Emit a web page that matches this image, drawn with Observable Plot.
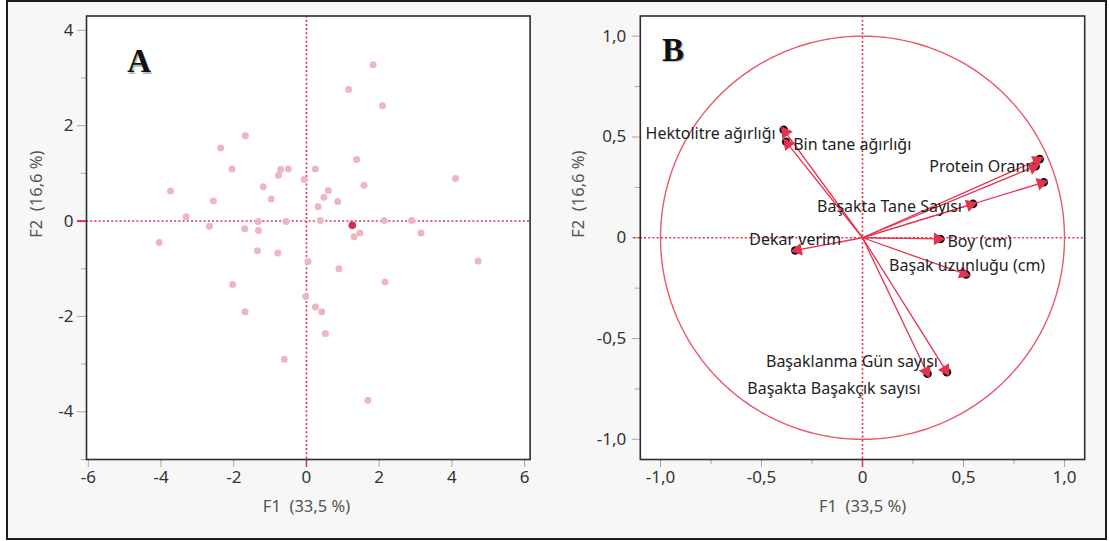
<!DOCTYPE html>
<html>
<head>
<meta charset="utf-8">
<script src="https://cdn.jsdelivr.net/npm/d3@7"></script>
<script src="https://cdn.jsdelivr.net/npm/@observablehq/plot@0.6"></script>
<style>
  body { margin: 0; background: #ffffff; }
  #wrap { position: relative; width: 1109px; height: 541px; overflow: hidden; background: #ffffff; }
  #border { position: absolute; left: 6px; top: 0px; width: 1101px; height: 540px; border: 2px solid #1c1c1c; box-sizing: border-box; background: #f7f7f7; }
  .panel { position: absolute; top: 0; }
</style>
</head>
<body>
<div id="wrap">
  <div id="border"></div>
  <div id="panelA" class="panel" style="left:0px"></div>
  <div id="panelB" class="panel" style="left:555px"></div>
</div>
<script>
// ---------- Panel A: observations (F1, F2 scores) ----------
const obsF1 = [1.835, 1.16, 2.09, -1.68, -2.36, 1.38, -2.05, -0.71, -0.50, -0.77,
               0.245, -0.06, 4.10, -1.19, 1.58, -3.74, 0.60, 0.48, -0.97, -2.56,
               0.86, 0.32, -3.31, -1.33, -0.56, 0.38, 2.14, 2.89, -2.67, -1.70,
               -1.32, 1.47, 1.31, 3.15, -4.05, -1.35, -0.79, 0.04, 0.89, 4.72,
               -2.03, 2.16, -0.02, 0.245, 0.42, -1.69, 0.52, -0.61, 1.69];
const obsF2 = [3.28, 2.76, 2.42, 1.79, 1.53, 1.29, 1.09, 1.08, 1.09, 0.96,
               1.09, 0.87, 0.89, 0.72, 0.75, 0.63, 0.64, 0.50, 0.46, 0.42,
               0.41, 0.30, 0.09, -0.01, -0.01, 0.01, 0.01, 0.01, -0.11, -0.16,
               -0.20, -0.25, -0.33, -0.25, -0.45, -0.62, -0.67, -0.85, -1.00, -0.84,
               -1.33, -1.28, -1.58, -1.80, -1.90, -1.90, -2.36, -2.90, -3.76];
const highlightF1 = [1.26];
const highlightF2 = [-0.09];

const ticksA_x = [-6, -4, -2, 0, 2, 4, 6];
const ticksA_y = [-4, -2, 0, 2, 4];
const minorA_y = [-5, -3, -1, 1, 3];

// ---------- Panel B: variables (correlation circle) ----------
const varNames = ["Hektolitre ağırlığı", "Bin tane ağırlığı", "Protein Oranı", "", "",
                  "Başakta Tane Sayısı", "Boy (cm)", "Başak uzunluğu (cm)", "Dekar verim",
                  "Başaklanma Gün sayısı", "Başakta Başakçık sayısı"];
const varF1 = [-0.390, -0.378, 0.857, 0.877, 0.897, 0.547, 0.386, 0.513, -0.333, 0.418, 0.322];
const varF2 = [0.535, 0.476, 0.355, 0.390, 0.275, 0.168, -0.006, -0.182, -0.063, -0.667, -0.675];

const ticksB = [-1, -0.5, 0, 0.5, 1];
const minorB = [-0.75, -0.25, 0.25, 0.75];

const axisLabelX = "F1\u00a0 (33,5 %)";
const axisLabelY = "F2\u00a0 (16,6 %)";

// label placement (layout only): anchor and pixel offsets from each arrow tip
const labelLayout = [
  {anchor: "end", dx: -8, dy: 4},
  {anchor: "start", dx: 7, dy: 3},
  {anchor: "end", dx: -6, dy: 1},
  null, null,
  {anchor: "end", dx: -11, dy: 3},
  {anchor: "start", dx: 7, dy: 3},
  {anchor: "middle", dx: 1, dy: -9},
  {anchor: "middle", dx: 0, dy: -11},
  {anchor: "end", dx: -9, dy: -10},
  {anchor: "end", dx: -7, dy: 15}
];

// ---------- styles ----------
const RED = "#e3334f";
const CIRCLE = "#e8596b";
const PINK = "#ecb7c3";
const DARKRED = "#d2304a";
const TICK = "#a8a8a8";
const TXT = "#333333";
const FONT = "Noto Sans, Open Sans, sans-serif";
const FS = 16;       // variable labels
const FS_TICK = 17;  // tick labels
const FS_AX = 16.5;  // axis titles

const fmtInt = d => String(d);
const fmtDec = d => d === 0 ? "0" : d.toFixed(1).replace(".", ",");

const obs = obsF1.map((x, i) => ({x, y: obsF2[i]}));
const hi = highlightF1.map((x, i) => ({x, y: highlightF2[i]}));

const letterStyle = {fontFamily: "Liberation Serif, Times New Roman, serif", fontWeight: "bold", fontSize: 33};

const plotA = Plot.plot({
  width: 555, height: 541,
  marginLeft: 86, marginRight: 25.4, marginTop: 15.5, marginBottom: 82,
  x: {domain: [-6.05, 6.15]},
  y: {domain: [-5, 4.3]},
  style: {background: "transparent", fontFamily: FONT, fontSize: FS + "px", color: TXT},
  marks: [
    Plot.frame({fill: "white", stroke: null}),
    Plot.axisX({ticks: ticksA_x, tickFormat: fmtInt, tickSize: 8, tickPadding: 3, stroke: TICK, fill: TXT, fontSize: FS_TICK, label: null}),
    Plot.axisX({ticks: [0], tickFormat: () => "", tickSize: 8, stroke: RED, strokeWidth: 1.5, label: null}),
    Plot.axisY({ticks: ticksA_y, tickFormat: fmtInt, tickSize: 9, tickPadding: 4, stroke: TICK, fill: TXT, fontSize: FS_TICK, label: null}),
    Plot.axisY({ticks: minorA_y, tickFormat: () => "", tickSize: 5, stroke: TICK, label: null}),
    Plot.axisY({ticks: [0], tickFormat: () => "", tickSize: 9, stroke: RED, strokeWidth: 2, label: null}),
    Plot.ruleX([0], {stroke: RED, strokeWidth: 1.6, strokeDasharray: "2,2.2"}),
    Plot.ruleY([0], {stroke: RED, strokeWidth: 1.6, strokeDasharray: "2,2.2"}),
    Plot.dot(obs, {x: "x", y: "y", r: 3.5, fill: PINK, stroke: null}),
    Plot.dot(hi, {x: "x", y: "y", r: 3.8, fill: DARKRED, stroke: null}),
    Plot.frame({stroke: "#2e2e2e", strokeWidth: 1.6}),
    Plot.text([axisLabelX], {x: () => 0, frameAnchor: "bottom", dy: 47, lineAnchor: "middle", fill: "#555", fontSize: FS_AX}),
    Plot.text([axisLabelY], {frameAnchor: "left", dx: -50, rotate: -90, lineAnchor: "middle", fill: "#555", fontSize: FS_AX}),
    Plot.text(["A"], {frameAnchor: "top-left", dx: 42, dy: 57.5, lineAnchor: "bottom", textAnchor: "start", fill: "#b8b8b8", ...letterStyle}),
    Plot.text(["A"], {frameAnchor: "top-left", dx: 40.7, dy: 56, lineAnchor: "bottom", textAnchor: "start", fill: "#111", ...letterStyle})
  ]
});
document.getElementById("panelA").appendChild(plotA);

// ---------- Panel B ----------
const vars = varNames.map((name, i) => {
  const x = varF1[i], y = varF2[i];
  const len = Math.hypot(x, y);
  const back = 0.014; // arrowhead sits just behind the tip
  return {name, x, y, hx: x - back * x / len, hy: y - back * y / len, rot: Math.atan2(x, y) * 180 / Math.PI};
});
const circle = d3.range(0, 361, 1).map(a => ({x: Math.cos(a * Math.PI / 180), y: Math.sin(a * Math.PI / 180)}));

const labelMarks = vars.map((v, i) => {
  const L = labelLayout[i];
  if (!L || !v.name) return null;
  return Plot.text([v], {x: "x", y: "y", text: "name", textAnchor: L.anchor, dx: L.dx, dy: L.dy,
    lineAnchor: "middle", fill: "#1e1e1e", fontSize: FS});
}).filter(Boolean);

const plotB = Plot.plot({
  width: 554, height: 541,
  marginLeft: 84.8, marginRight: 24.8, marginTop: 15.5, marginBottom: 82,
  x: {domain: [-1.1, 1.1]},
  y: {domain: [-1.1, 1.1]},
  style: {background: "transparent", fontFamily: FONT, fontSize: FS + "px", color: TXT},
  marks: [
    Plot.frame({fill: "white", stroke: null}),
    Plot.axisX({ticks: ticksB, tickFormat: fmtDec, tickSize: 8, tickPadding: 3, stroke: TICK, fill: TXT, fontSize: FS_TICK, label: null}),
    Plot.axisX({ticks: minorB, tickFormat: () => "", tickSize: 5, stroke: TICK, label: null}),
    Plot.axisX({ticks: [0], tickFormat: () => "", tickSize: 8, stroke: RED, strokeWidth: 1.5, label: null}),
    Plot.axisY({ticks: ticksB, tickFormat: fmtDec, tickSize: 8, tickPadding: 6, stroke: TICK, fill: TXT, fontSize: FS_TICK, label: null}),
    Plot.axisY({ticks: minorB, tickFormat: () => "", tickSize: 5, stroke: TICK, label: null}),
    Plot.axisY({ticks: [0], tickFormat: () => "", tickSize: 8, stroke: RED, strokeWidth: 1.6, strokeDasharray: "2,2.2", label: null}),
    Plot.ruleX([0], {stroke: RED, strokeWidth: 1.6, strokeDasharray: "2,2.2"}),
    Plot.ruleY([0], {stroke: RED, strokeWidth: 1.6, strokeDasharray: "2,2.2"}),
    Plot.line(circle, {x: "x", y: "y", stroke: CIRCLE, strokeWidth: 1.4}),
    Plot.link(vars, {x1: () => 0, y1: () => 0, x2: "x", y2: "y", stroke: RED, strokeWidth: 1.3}),
    Plot.dot(vars, {x: "x", y: "y", r: 4.3, fill: "#111", stroke: null}),
    Plot.dot(vars, {x: "hx", y: "hy", symbol: "triangle", r: 4.8, rotate: "rot", fill: RED, stroke: null}),
    ...labelMarks,
    Plot.frame({stroke: "#2e2e2e", strokeWidth: 1.6}),
    Plot.text([axisLabelX], {x: () => 0, frameAnchor: "bottom", dy: 47, lineAnchor: "middle", fill: "#555", fontSize: FS_AX}),
    Plot.text([axisLabelY], {frameAnchor: "left", dx: -62, rotate: -90, lineAnchor: "middle", fill: "#555", fontSize: FS_AX}),
    Plot.text(["B"], {frameAnchor: "top-left", dx: 23, dy: 46.4, lineAnchor: "bottom", textAnchor: "start", fill: "#b8b8b8", ...letterStyle}),
    Plot.text(["B"], {frameAnchor: "top-left", dx: 21.7, dy: 44.9, lineAnchor: "bottom", textAnchor: "start", fill: "#111", ...letterStyle})
  ]
});
document.getElementById("panelB").appendChild(plotB);
</script>
</body>
</html>
